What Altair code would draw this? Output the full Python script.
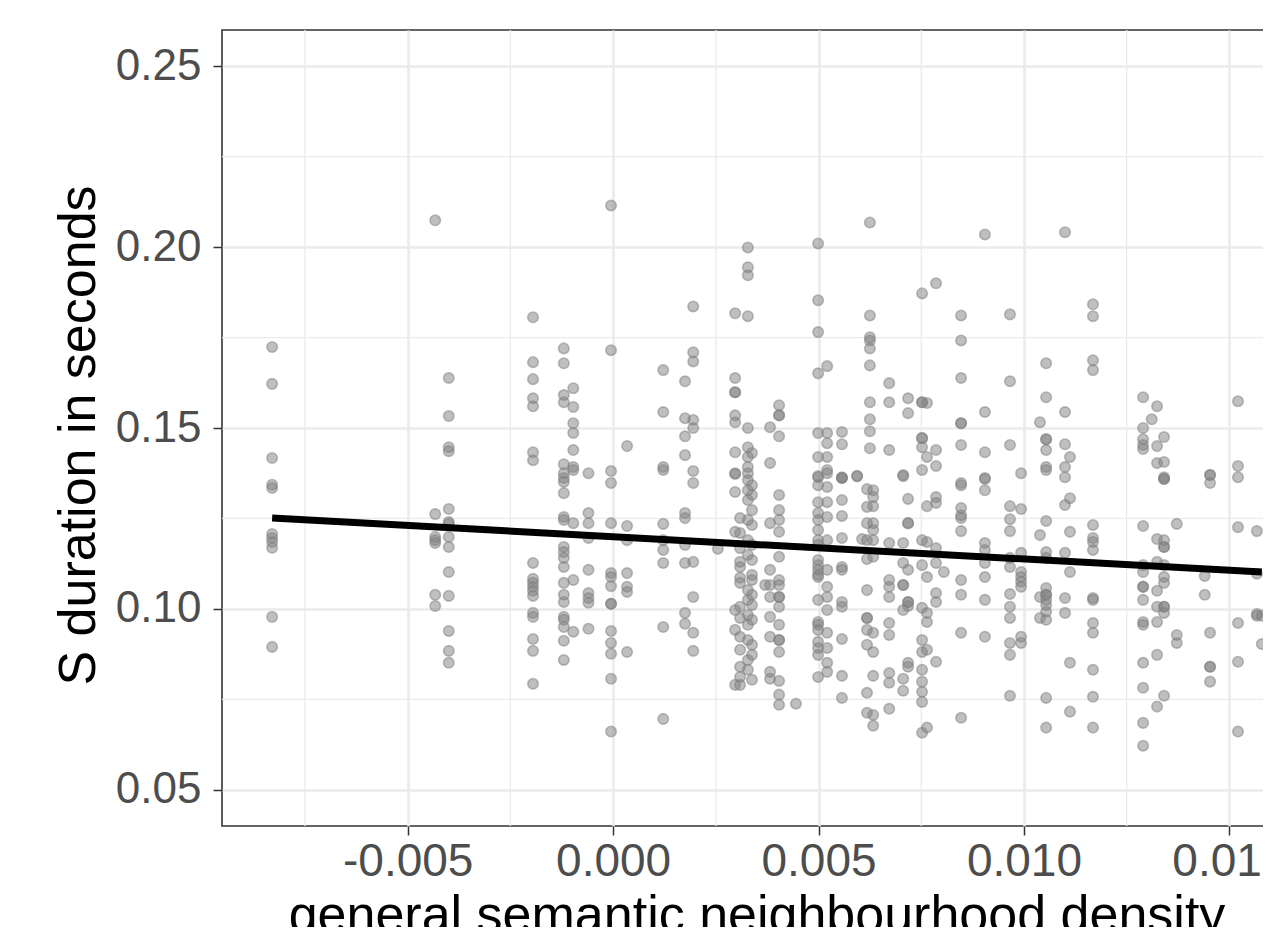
import altair as alt
import pandas as pd

# x positions of the point columns (semantic neighbourhood density)
col_x = [-0.0083, -0.00433, -0.0040, -0.00195, -0.0012, -0.00097, -0.0006, -0.00005,
         0.00034, 0.00122, 0.00175, 0.00195, 0.00255, 0.00297, 0.00309, 0.00328,
         0.00338, 0.0037, 0.00382, 0.00404, 0.00445, 0.00499, 0.00521, 0.00557,
         0.00594, 0.00606, 0.00625, 0.00618, 0.00633, 0.00672, 0.00706, 0.00718,
         0.00752, 0.00764, 0.00786, 0.00805, 0.00847, 0.00905, 0.00966, 0.00993,
         0.01039, 0.01054, 0.011, 0.01112, 0.01168, 0.0129, 0.01311, 0.01324,
         0.01341, 0.01372, 0.0144, 0.01453, 0.01521, 0.01567, 0.01579]

# S durations (seconds) for each column
col_y = [
    [0.1724, 0.1622, 0.1417, 0.1343, 0.1334, 0.1207, 0.1196, 0.1185, 0.1169, 0.0978, 0.0895],
    [0.2074, 0.1262, 0.1199, 0.1190, 0.1182, 0.1039, 0.1008],
    [0.1638, 0.1533, 0.1447, 0.1436, 0.1276, 0.1240, 0.1235, 0.1199, 0.1171, 0.1102, 0.1036, 0.0939, 0.0884, 0.0851],
    [0.1806, 0.1682, 0.1635, 0.1582, 0.1560, 0.1433, 0.1411, 0.1127, 0.1083, 0.1072, 0.1061, 0.1050, 0.1036, 0.0989, 0.0978, 0.0917, 0.0884, 0.0793],
    [0.1720, 0.1679, 0.1591, 0.1571, 0.1400, 0.1375, 0.1362, 0.1351, 0.1320, 0.1254, 0.1246, 0.1171, 0.1157, 0.1141, 0.1116, 0.1072, 0.1039, 0.1019, 0.0978, 0.0970, 0.0950, 0.0912, 0.0859],
    [0.1610, 0.1558, 0.1513, 0.1486, 0.1439, 0.1392, 0.1384, 0.1237, 0.1080, 0.0937],
    [0.1375, 0.1265, 0.1237, 0.1196, 0.1108, 0.1044, 0.1030, 0.1017, 0.0945],
    [0.2115, 0.1715, 0.1381, 0.1348, 0.1237, 0.1099, 0.1088, 0.1063, 0.1014, 0.1014, 0.0939, 0.0906, 0.0876, 0.0807, 0.0661],
    [0.1450, 0.1229, 0.1190, 0.1099, 0.1061, 0.1047, 0.0881],
    [0.1660, 0.1544, 0.1392, 0.1384, 0.1235, 0.1190, 0.1163, 0.1127, 0.0950, 0.0696],
    [0.1629, 0.1527, 0.1477, 0.1425, 0.1265, 0.1251, 0.1177, 0.1127, 0.0989, 0.0959],
    [0.1836, 0.1709, 0.1684, 0.1522, 0.1500, 0.1381, 0.1348, 0.1130, 0.1033, 0.0934, 0.0884],
    [0.1166],
    [0.1817, 0.1638, 0.1599, 0.1599, 0.1535, 0.1516, 0.1433, 0.1375, 0.1373, 0.1323, 0.1213, 0.0997, 0.0942, 0.0790],
    [0.1251, 0.1210, 0.1168, 0.1130, 0.1116, 0.1086, 0.1072, 0.1006, 0.0975, 0.0923, 0.0887, 0.0840, 0.0812, 0.0790],
    [0.1999, 0.1944, 0.1922, 0.1809, 0.1500, 0.1447, 0.1420, 0.1392, 0.1375, 0.1356, 0.1328, 0.1301, 0.1246, 0.1190, 0.1149, 0.1052, 0.1025, 0.0983, 0.0956, 0.0914, 0.0859, 0.0832],
    [0.1431, 0.1342, 0.1315, 0.1273, 0.1232, 0.1177, 0.1135, 0.1094, 0.1080, 0.1039, 0.1011, 0.0970, 0.0901, 0.0873, 0.0804],
    [0.1066],
    [0.1502, 0.1403, 0.1237, 0.1108, 0.1066, 0.1033, 0.0978, 0.0923, 0.0826, 0.0807],
    [0.1563, 0.1535, 0.1535, 0.1477, 0.1315, 0.1273, 0.1246, 0.1213, 0.1144, 0.1080, 0.1066, 0.1033, 0.1033, 0.1006, 0.0956, 0.0914, 0.0914, 0.0881, 0.0801, 0.0763, 0.0735],
    [0.0738],
    [0.2010, 0.1853, 0.1765, 0.1651, 0.1486, 0.1420, 0.1367, 0.1364, 0.1342, 0.1295, 0.1265, 0.1246, 0.1218, 0.1190, 0.1177, 0.1135, 0.1121, 0.1108, 0.1094, 0.1088, 0.1025, 0.0964, 0.0956, 0.0942, 0.0909, 0.0892, 0.0873, 0.0812],
    [0.1671, 0.1486, 0.1458, 0.1420, 0.1384, 0.1375, 0.1337, 0.1295, 0.1254, 0.1190, 0.1108, 0.1061, 0.1033, 0.0997, 0.0934, 0.0892, 0.0851, 0.0826],
    [0.1489, 0.1455, 0.1364, 0.1362, 0.1362, 0.1301, 0.1257, 0.1196, 0.1116, 0.1108, 0.1019, 0.1006, 0.0917, 0.0815, 0.0754],
    [0.1367, 0.1367],
    [0.1193],
    [0.2068, 0.1811, 0.1751, 0.1742, 0.1720, 0.1673, 0.1571, 0.1524, 0.1491, 0.1444],
    [0.1331, 0.1282, 0.1237, 0.1190, 0.1138, 0.1052, 0.0975, 0.0975, 0.0942, 0.0901, 0.0768, 0.0713],
    [0.1328, 0.1309, 0.1284, 0.1237, 0.1218, 0.1190, 0.1144, 0.0934, 0.0881, 0.0815, 0.0707, 0.0677],
    [0.1624, 0.1571, 0.1439, 0.1182, 0.1080, 0.1061, 0.1033, 0.0961, 0.0928, 0.0823, 0.0796, 0.0724],
    [0.1370, 0.1367, 0.1182, 0.1127, 0.1066, 0.1066, 0.0997, 0.0807, 0.0774],
    [0.1582, 0.1541, 0.1304, 0.1237, 0.1237, 0.1108, 0.1019, 0.1019, 0.1008, 0.0851, 0.0840],
    [0.1872, 0.1571, 0.1571, 0.1472, 0.1472, 0.1447, 0.1384, 0.1190, 0.1121, 0.1003, 0.0914, 0.0881, 0.0832, 0.0799, 0.0771, 0.0743, 0.0658],
    [0.1569, 0.1420, 0.1284, 0.1185, 0.1088, 0.0989, 0.0964, 0.0887, 0.0672],
    [0.1900, 0.1439, 0.1395, 0.1309, 0.1293, 0.1168, 0.1127, 0.1044, 0.1019, 0.0854],
    [0.1102],
    [0.1811, 0.1742, 0.1638, 0.1513, 0.1513, 0.1453, 0.1348, 0.1342, 0.1279, 0.1259, 0.1251, 0.1215, 0.1080, 0.1039, 0.0934, 0.0699],
    [0.2035, 0.1544, 0.1433, 0.1362, 0.1359, 0.1328, 0.1182, 0.1163, 0.1127, 0.1088, 0.1025, 0.0923],
    [0.1814, 0.1629, 0.1453, 0.1284, 0.1248, 0.1215, 0.1141, 0.1116, 0.1041, 0.1006, 0.0975, 0.0906, 0.0873, 0.0760],
    [0.1375, 0.1276, 0.1155, 0.1102, 0.1088, 0.1075, 0.1061, 0.0923, 0.0906],
    [0.1516, 0.1204, 0.1033, 0.0975],
    [0.1679, 0.1585, 0.1469, 0.1469, 0.1439, 0.1392, 0.1384, 0.1243, 0.1157, 0.1141, 0.1058, 0.1039, 0.1039, 0.1025, 0.1011, 0.0992, 0.0970, 0.0754, 0.0672],
    [0.2041, 0.1544, 0.1455, 0.1392, 0.1364, 0.1287, 0.1155, 0.1030, 0.0989],
    [0.1420, 0.1306, 0.1213, 0.1102, 0.0851, 0.0716],
    [0.1842, 0.1809, 0.1687, 0.1660, 0.1232, 0.1196, 0.1185, 0.1163, 0.1030, 0.1025, 0.0961, 0.0934, 0.0832, 0.0757, 0.0672],
    [0.1585, 0.1500, 0.1469, 0.1453, 0.1442, 0.1229, 0.1121, 0.1102, 0.1061, 0.1061, 0.1025, 0.0964, 0.0956, 0.0851, 0.0782, 0.0685, 0.0622],
    [0.1524],
    [0.1560, 0.1450, 0.1403, 0.1193, 0.1130, 0.1050, 0.1006, 0.0964, 0.0873, 0.0730],
    [0.1475, 0.1406, 0.1364, 0.1359, 0.1359, 0.1190, 0.1171, 0.1171, 0.1121, 0.1088, 0.1072, 0.1006, 0.1006, 0.0989, 0.0760],
    [0.1235, 0.0928, 0.0906],
    [0.1091, 0.1039],
    [0.1370, 0.1370, 0.1348, 0.0934, 0.0840, 0.0840, 0.0799],
    [0.1574, 0.1395, 0.1364, 0.1226, 0.0961, 0.0854, 0.0661],
    [0.1215, 0.1097, 0.0986, 0.0981],
    [0.0981, 0.0903],
]

# fitted regression line end points
line_x = [-0.0083, 0.01579]
line_y = [0.1251, 0.1102]

x_ticks = [-0.005, 0.0, 0.005, 0.010, 0.015]
y_ticks = [0.05, 0.10, 0.15, 0.20, 0.25]
x_minor = [-0.0075, -0.0025, 0.0025, 0.0075, 0.0125]
y_minor = [0.075, 0.125, 0.175, 0.225]

x_domain = [-0.00952, 0.0165]
y_domain = [0.04, 0.26]

rows = [{"x": x, "y": y} for x, ys in zip(col_x, col_y) for y in ys]
df = pd.DataFrame(rows)
df_line = pd.DataFrame({"x": line_x, "y": line_y})

FONT = "Liberation Sans"
xs = alt.Scale(domain=x_domain, nice=False, zero=False)
ys = alt.Scale(domain=y_domain, nice=False, zero=False)

x_axis = alt.Axis(
    values=x_ticks, grid=True, gridColor="#EBEBEB", gridWidth=2.6,
    labelExpr="replace(format(datum.value, '.3f'), '\u2212', '-')",
    title="general semantic neighbourhood density",
    labelFontSize=46, titleFontSize=52, labelColor="#4D4D4D", titleColor="#000000",
    labelFont=FONT, titleFont=FONT, titleFontWeight="normal",
    tickColor="#333333", tickWidth=1.5, tickSize=9, labelPadding=4, titlePadding=6,
    domain=False, labelFlush=False,
)
y_axis = alt.Axis(
    values=y_ticks, grid=True, gridColor="#EBEBEB", gridWidth=2.6, format=".2f",
    title="S duration in seconds",
    labelFontSize=44, titleFontSize=52, labelColor="#4D4D4D", titleColor="#000000",
    labelFont=FONT, titleFont=FONT, titleFontWeight="normal",
    tickColor="#333333", tickWidth=1.5, tickSize=9, labelPadding=12, titlePadding=10,
    titleY=405, domain=False, labelFlush=False,
)

minor_v = alt.Chart(pd.DataFrame({"x": x_minor})).mark_rule(
    color="#EBEBEB", strokeWidth=1.3).encode(x=alt.X("x:Q", scale=xs, axis=x_axis))
minor_h = alt.Chart(pd.DataFrame({"y": y_minor})).mark_rule(
    color="#EBEBEB", strokeWidth=1.3).encode(y=alt.Y("y:Q", scale=ys, axis=y_axis))

points = alt.Chart(df).mark_circle(
    size=110, fill="#7F7F7F", fillOpacity=0.5, stroke="#7F7F7F",
    strokeOpacity=0.5, strokeWidth=1.6, clip=True,
).encode(
    x=alt.X("x:Q", scale=xs, axis=x_axis),
    y=alt.Y("y:Q", scale=ys, axis=y_axis),
)

line = alt.Chart(df_line).mark_line(
    color="#000000", strokeWidth=7, strokeCap="butt"
).encode(
    x=alt.X("x:Q", scale=xs, axis=x_axis),
    y=alt.Y("y:Q", scale=ys, axis=y_axis),
)

chart = alt.layer(minor_v, minor_h, points, line).properties(
    width=1069, height=796,
    autosize=alt.AutoSizeParams(type="none"),
    padding={"left": 214, "top": 22, "right": -28, "bottom": 101},
    background="#FFFFFF",
).configure_view(
    stroke="#333333", strokeWidth=1.6
)

chart.save("out.html", embed_options={"renderer": "svg", "actions": False})
